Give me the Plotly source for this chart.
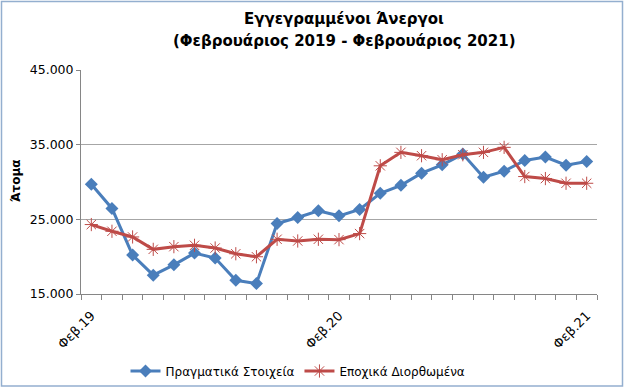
import plotly.graph_objects as go

months = ["Φεβ.19", "Μαρ.19", "Απρ.19", "Μαϊ.19", "Ιουν.19", "Ιουλ.19", "Αυγ.19",
          "Σεπ.19", "Οκτ.19", "Νοε.19", "Δεκ.19", "Ιαν.20", "Φεβ.20", "Μαρ.20",
          "Απρ.20", "Μαϊ.20", "Ιουν.20", "Ιουλ.20", "Αυγ.20", "Σεπ.20", "Οκτ.20",
          "Νοε.20", "Δεκ.20", "Ιαν.21", "Φεβ.21"]
shown_labels = ["Φεβ.19", "Φεβ.20", "Φεβ.21"]

actual = [29700, 26460, 20210, 17520, 18910, 20480, 19810, 16840, 16390, 24440,
          25250, 26150, 25470, 26330, 28480, 29560, 31180, 32300, 33740, 30640,
          31450, 32890, 33340, 32260, 32750]
seasonal = [24300, 23400, 22640, 20980, 21340, 21520, 21160, 20390, 19990, 22330,
            22100, 22330, 22280, 23090, 32170, 33970, 33520, 32980, 33650, 33970,
            34640, 30730, 30460, 29830, 29830]

name_actual = "Πραγματικά Στοιχεία"
name_seasonal = "Εποχικά Διορθωμένα"
title_line1 = "Εγγεγραμμένοι Άνεργοι"
title_line2 = "(Φεβρουάριος 2019 - Φεβρουάριος 2021)"
y_title = "Άτομα"

W, H = 625, 388
ml, mr, mt, mb = 81, 28, 70, 94
pw, ph = W - ml - mr, H - mt - mb

blue = "#4A7EBB"
red = "#BE4B48"
font = "DejaVu Sans"

fig = go.Figure()
fig.add_trace(go.Scatter(
    x=months, y=actual, name=name_actual, mode="lines+markers",
    line=dict(color=blue, width=3),
    marker=dict(symbol="diamond", size=10, color=blue),
))
fig.add_trace(go.Scatter(
    x=months, y=seasonal, name=name_seasonal, mode="lines+markers",
    line=dict(color=red, width=3),
    marker=dict(symbol="asterisk-open", size=11, color=red, line=dict(color=red, width=1)),
))

def px_x(p):
    return (p - ml) / pw

def px_y(p):
    return (H - mb - p) / ph

fig.update_layout(
    width=W, height=H,
    margin=dict(l=ml, r=mr, t=mt, b=mb, autoexpand=False),
    paper_bgcolor="white", plot_bgcolor="white",
    separators=",.",
    font=dict(family=font, size=12, color="black"),
    showlegend=True,
    legend=dict(orientation="h", x=px_x(298), xanchor="center", y=px_y(371), yanchor="middle",
                font=dict(family=font, size=12), itemwidth=30, bgcolor="rgba(0,0,0,0)"),
    xaxis=dict(
        type="category", categoryorder="array", categoryarray=months,
        tickmode="array", tickvals=months,
        ticktext=[m if m in shown_labels else "" for m in months],
        tickson="boundaries", ticks="outside", ticklen=5, tickcolor="#868686",
        tickangle=-45, showgrid=False, showline=True, linecolor="#868686", linewidth=1,
        tickfont=dict(family=font, size=13), zeroline=False, automargin=False,
        ticklabelstandoff=8,
        range=[-0.5, len(months) - 0.5],
    ),
    yaxis=dict(
        range=[15000, 45000], tick0=15000, dtick=10000, tickformat=",d",
        showgrid=True, gridcolor="#A6A6A6", gridwidth=1,
        showline=True, linecolor="#868686", linewidth=1, zeroline=False,
        ticks="outside", ticklen=4, tickcolor="#868686", automargin=False,
        tickfont=dict(family=font, size=12.5),
    ),
    annotations=[
        dict(text="<b>" + title_line1 + "</b>", xref="paper", yref="paper",
             x=px_x(344), y=px_y(19), xanchor="center", yanchor="middle", showarrow=False,
             font=dict(family=font, size=15, color="black")),
        dict(text="<b>" + title_line2 + "</b>", xref="paper", yref="paper",
             x=px_x(344), y=px_y(41), xanchor="center", yanchor="middle", showarrow=False,
             font=dict(family=font, size=15, color="black")),
        dict(text="<b>" + y_title + "</b>", xref="paper", yref="paper",
             x=px_x(16), y=px_y(181), xanchor="center", yanchor="middle", showarrow=False,
             textangle=-90, font=dict(family=font, size=12, color="black")),
    ],
    shapes=[dict(type="rect", xref="paper", yref="paper",
                 x0=px_x(1.5), x1=px_x(622.5), y0=px_y(386), y1=px_y(1.5),
                 line=dict(color="#94AFCF", width=1.5), fillcolor="rgba(0,0,0,0)", layer="below")],
)

fig.write_html("out.html", config={"displayModeBar": False},
               post_script="document.body.style.margin='0';document.body.style.overflow='hidden';")
